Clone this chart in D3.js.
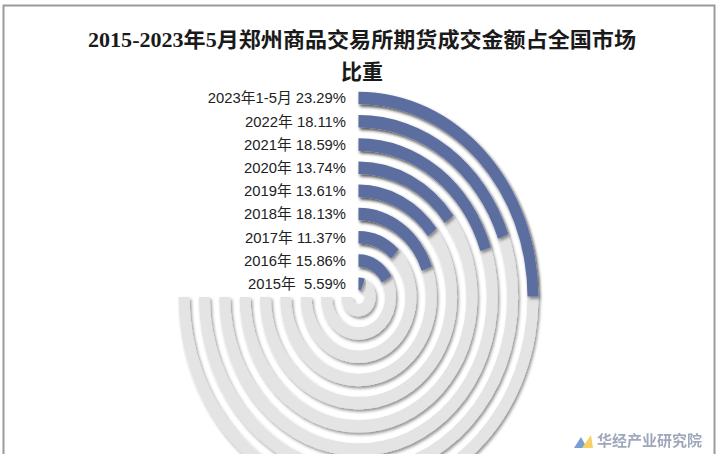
<!DOCTYPE html>
<html>
<head>
<meta charset="utf-8">
<script src="https://cdn.jsdelivr.net/npm/d3@7"></script>
<style>
  html, body { margin: 0; padding: 0; background: #fff; }
  svg { display: block; }
</style>
</head>
<body>
<svg id="chart" width="720" height="454"></svg>
<script>
// ---- data ----
const categories = ["2023年1-5月", "2022年", "2021年", "2020年", "2019年", "2018年", "2017年", "2016年", "2015年"];
const values = [23.29, 18.11, 18.59, 13.74, 13.61, 18.13, 11.37, 15.86, 5.59];
const valueLabels = ["23.29%", "18.11%", "18.59%", "13.74%", "13.61%", "18.13%", "11.37%", "15.86%", " 5.59%"];
const titleLines = ["2015-2023年5月郑州商品交易所期货成交金额占全国市场", "比重"];

const svg = d3.select("#chart");

// border
svg.append("rect").attr("x", 3.5).attr("y", 5.5).attr("width", 711).attr("height", 460)
  .attr("fill", "#fff").attr("stroke", "#9a9a9a").attr("stroke-width", 2);

const defs = svg.append("defs");
const f = defs.append("filter").attr("id", "shadow").attr("x", "-10%").attr("y", "-10%").attr("width", "120%").attr("height", "120%");
f.append("feDropShadow").attr("dx", 1.6).attr("dy", 2).attr("stdDeviation", 1.5)
  .attr("flood-color", "#000").attr("flood-opacity", 0.42);

// title
const title = svg.append("g").attr("font-family", "'Liberation Serif','Noto Sans CJK SC',serif")
  .attr("font-weight", "bold").attr("fill", "#1a1a1a").attr("font-size", 21);
title.append("text").attr("x", 362).attr("y", 47).attr("text-anchor", "middle")
  .attr("textLength", 548).attr("lengthAdjust", "spacingAndGlyphs").text(titleLines[0]);
title.append("text").attr("x", 362).attr("y", 79).attr("text-anchor", "middle").text(titleLines[1]);

// geometry
const cx = 358.5, cy = 297, sy = 1.14;
const outerR = 180, pitch = 20.35, thick = 11;

const angle = d3.scaleLinear().domain([0, 70]).range([0, 1.5 * Math.PI]);
const ring = d3.scaleBand().domain(categories).range([0, categories.length]);
const rOuter = c => outerR - ring(c) * pitch;

const arc = d3.arc()
  .innerRadius(d => rOuter(d.c) - thick)
  .outerRadius(d => rOuter(d.c))
  .startAngle(0);

const g = svg.append("g").attr("transform", `translate(${cx},${cy}) scale(1,${sy})`);
const data = categories.map((c, i) => ({c, v: values[i], lab: valueLabels[i]}));

g.selectAll("path.bg").data(data).join("path").attr("class", "bg")
  .attr("d", d => arc.endAngle(1.5 * Math.PI)(d))
  .attr("fill", "#e4e4e4").attr("filter", "url(#shadow)");

g.selectAll("path.val").data(data).join("path").attr("class", "val")
  .attr("d", d => arc.endAngle(angle(d.v))(d))
  .attr("fill", "#5b6e9f").attr("filter", "url(#shadow)");

// labels
svg.append("g").selectAll("text").data(data).join("text")
  .attr("x", 346)
  .attr("y", d => cy - (rOuter(d.c) - thick / 2) * sy)
  .attr("dy", "0.36em")
  .attr("text-anchor", "end")
  .attr("font-family", "'Liberation Sans','Noto Sans CJK SC',sans-serif")
  .attr("font-size", 14.8)
  .attr("fill", "#222")
  .style("white-space", "pre")
  .text(d => d.c + " " + d.lab);

// watermark with small logo
const wm = svg.append("g").attr("opacity", 0.75);
wm.append("path").attr("d", "M574,448 L581,437 L587,448 Z").attr("fill", "#4a7fc8");
wm.append("path").attr("d", "M582,448 L591,435 L593,448 Z").attr("fill", "#f2c430");
wm.append("text").attr("x", 597).attr("y", 446).attr("font-family", "'Noto Sans CJK SC',sans-serif")
  .attr("font-size", 15).attr("font-weight", "bold").attr("fill", "#7f8aa3")
  .text("华经产业研究院");
</script>
</body>
</html>
